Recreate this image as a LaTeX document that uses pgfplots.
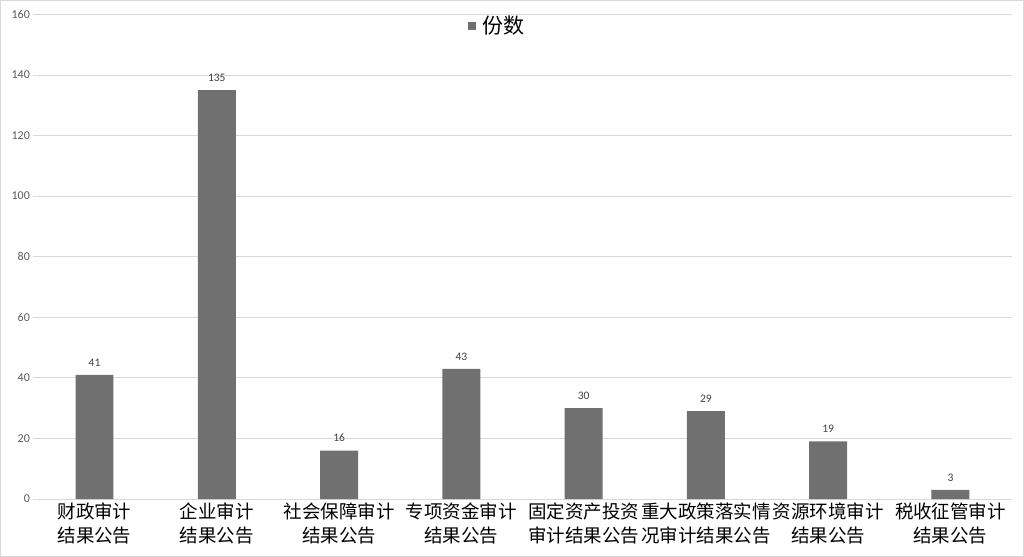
\documentclass[border=0pt]{standalone}
\usepackage{fontspec}
\usepackage{pgfplots}
\pgfplotsset{compat=1.18}
\setmainfont{Carlito}
\newfontfamily\cjk{Noto Sans CJK SC}
\definecolor{barc}{HTML}{707070}
\definecolor{gridc}{HTML}{D9D9D9}
\definecolor{tickc}{HTML}{595959}
\begin{document}
\begin{tikzpicture}
  \begin{axis}[
    name=ax,
    scale only axis,
    width=979pt, height=485pt,
    ymin=0, ymax=160,
    ytick={0,20,...,160},
    xmin=-0.5, xmax=7.5,
    xtick=data,
    xticklabels={{财政审计\\结果公告},{企业审计\\结果公告},{社会保障审计\\结果公告},{专项资金审计\\结果公告},{固定资产投资\\审计结果公告},{重大政策落实情\\况审计结果公告},{资源环境审计\\结果公告},{税收征管审计\\结果公告}},
    xticklabel style={font=\cjk\fontsize{18.5}{24}\selectfont, align=center, inner sep=0pt, yshift=-4pt, text=black},
    yticklabel style={font=\fontsize{12}{14}\selectfont, text=tickc, /pgf/number format/assume math mode=true},
    axis line style={draw=none},
    major tick length=0pt,
    ymajorgrids,
    grid style={gridc, line width=0.8pt},
    ybar, bar width=38pt,
    nodes near coords,
    every node near coord/.append style={font=\fontsize{11.5}{13}\selectfont, text=black!75, yshift=5pt, /pgf/number format/assume math mode=true},
    legend style={at={(0.474,0.977)}, anchor=center, draw=none, fill=none, font=\cjk\fontsize{21}{24}\selectfont,
      /tikz/every even column/.append style={column sep=0pt}},
    legend image code/.code={\fill[barc] (2pt,-4pt) rectangle (10pt,4pt);},
    legend cell align=left,
  ]
    \addplot[fill=barc, draw=none] coordinates {(0,41) (1,135) (2,16) (3,43) (4,30) (5,29) (6,19) (7,3)};
    \legend{\hspace{5pt}份数}
  \end{axis}
  \pgfresetboundingbox
  \draw[gridc, line width=0.8pt] ([xshift=-33pt,yshift=-57pt]ax.south west) rectangle ([xshift=12pt,yshift=14pt]ax.north east);
\end{tikzpicture}
\end{document}
